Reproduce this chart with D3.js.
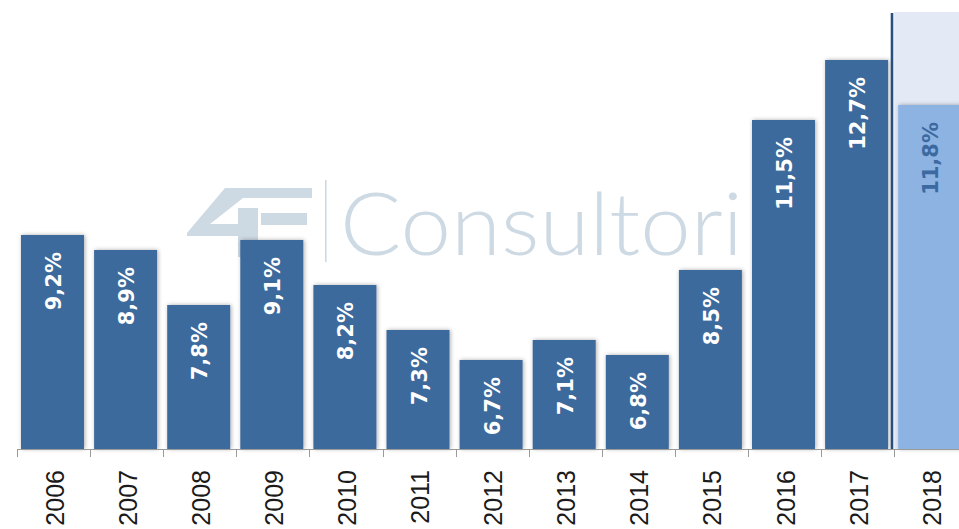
<!DOCTYPE html>
<html>
<head>
<meta charset="utf-8">
<script src="https://cdn.jsdelivr.net/npm/d3@7"></script>
<style>
  html, body { margin: 0; padding: 0; background: #ffffff; }
  svg { display: block; }
</style>
</head>
<body>
<script>
// data
var years = ["2006", "2007", "2008", "2009", "2010", "2011", "2012", "2013", "2014", "2015", "2016", "2017", "2018"];
var values = [9.2, 8.9, 7.8, 9.1, 8.2, 7.3, 6.7, 7.1, 6.8, 8.5, 11.5, 12.7, 11.8];
var forecastYears = ["2018"];

var width = 959, height = 529;
var left = 17, step = 73.1, baseY = 449, topY = 12;

var svg = d3.select("body").append("svg")
  .attr("width", width)
  .attr("height", height);

var defs = svg.append("defs");
var shadow = defs.append("filter")
  .attr("id", "shadow")
  .attr("x", "-20%").attr("y", "-20%")
  .attr("width", "140%").attr("height", "140%");
shadow.append("feDropShadow")
  .attr("dx", 1).attr("dy", 0)
  .attr("stdDeviation", 2.2)
  .attr("flood-color", "#000")
  .attr("flood-opacity", 0.32);

// scales
var x = d3.scaleBand()
  .domain(years)
  .range([left, left + step * years.length])
  .padding(0);

var y = d3.scaleLinear()
  .domain([4.92, 13.66])
  .range([baseY, topY]);

var ptBR = d3.formatLocale({ decimal: ",", thousands: ".", grouping: [3], currency: ["R$", ""] });
var fmt = ptBR.format(".1f");

// faixa de projecao (2018)
svg.selectAll(".proj")
  .data(forecastYears)
  .enter().append("rect")
  .attr("class", "proj")
  .attr("x", d => x(d))
  .attr("y", y.range()[1])
  .attr("width", x.bandwidth())
  .attr("height", y.range()[0] - y.range()[1])
  .style("fill", "#e3eaf6");

svg.selectAll(".projLine")
  .data(forecastYears)
  .enter().append("rect")
  .attr("class", "projLine")
  .attr("x", d => x(d) - 3.5)
  .attr("y", y.range()[1] + 1)
  .attr("width", 2.6)
  .attr("height", y.range()[0] - y.range()[1] - 1)
  .style("fill", "#2b4f7e");

// marca d'agua
var wm = svg.append("g").attr("class", "watermark");
var logoColor = "#cdd9e3";
wm.append("path")
  .attr("d", "M187,233 L225,188 L312,188 L312,198 L243,198 L210,224 L238,224 L238,208 L258,208 L258,257 L238,257 L238,236 L187,236 Z")
  .style("fill", logoColor);
wm.append("rect").attr("x", 261).attr("y", 213).attr("width", 46).attr("height", 12).style("fill", logoColor);
wm.append("rect").attr("x", 261).attr("y", 242).attr("width", 42).attr("height", 11).style("fill", logoColor);
wm.append("rect").attr("x", 325).attr("y", 180).attr("width", 1.6).attr("height", 82).style("fill", logoColor);
wm.append("text")
  .attr("x", 340)
  .attr("y", 255)
  .attr("textLength", 403)
  .attr("lengthAdjust", "spacingAndGlyphs")
  .style("font-family", "Lato, 'Noto Sans', sans-serif")
  .style("font-weight", 300)
  .style("font-size", "86px")
  .style("fill", logoColor)
  .text("Consultori");

// barras
var barPad = 4, barW = 63;
var bars = svg.selectAll(".bar")
  .data(years)
  .enter().append("rect")
  .attr("class", "bar")
  .attr("x", d => x(d) + barPad)
  .attr("y", (d, i) => y(values[i]))
  .attr("width", barW)
  .attr("height", (d, i) => baseY - y(values[i]))
  .attr("filter", "url(#shadow)")
  .style("fill", d => forecastYears.indexOf(d) >= 0 ? "#8db3e2" : "#3d6a9d");

// rotulos das barras
svg.selectAll(".lbl")
  .data(years)
  .enter().append("text")
  .attr("class", "lbl")
  .attr("transform", (d, i) => "translate(" + (x(d) + barPad + barW / 2 + 1) + "," + (y(values[i]) + 17) + ") rotate(-90)")
  .attr("dy", "0.36em")
  .attr("text-anchor", "end")
  .style("font-family", "'DejaVu Sans', sans-serif")
  .style("font-weight", "bold")
  .style("font-size", "21px")
  .style("fill", d => forecastYears.indexOf(d) >= 0 ? "#3b69a0" : "#ffffff")
  .text((d, i) => fmt(values[i]) + "%");

// eixo x
var axis = svg.append("g").attr("class", "axis");
axis.append("line")
  .attr("x1", left).attr("x2", width)
  .attr("y1", baseY + 0.5).attr("y2", baseY + 0.5)
  .style("stroke", "#9a9a9a");
axis.selectAll(".tick")
  .data(years)
  .enter().append("line")
  .attr("x1", d => Math.round(x(d)) + 0.5)
  .attr("x2", d => Math.round(x(d)) + 0.5)
  .attr("y1", baseY)
  .attr("y2", baseY + 8)
  .style("stroke", "#9a9a9a");

axis.selectAll(".yr")
  .data(years)
  .enter().append("text")
  .attr("class", "yr")
  .attr("transform", d => "translate(" + (x(d) + x.bandwidth() / 2 + 1) + "," + 470 + ") rotate(-90)")
  .attr("dy", "0.36em")
  .attr("text-anchor", "end")
  .style("font-family", "'Liberation Sans', Arial, sans-serif")
  .style("font-size", "25px")
  .style("fill", "#1a1a1a")
  .text(d => d);
</script>
</body>
</html>
